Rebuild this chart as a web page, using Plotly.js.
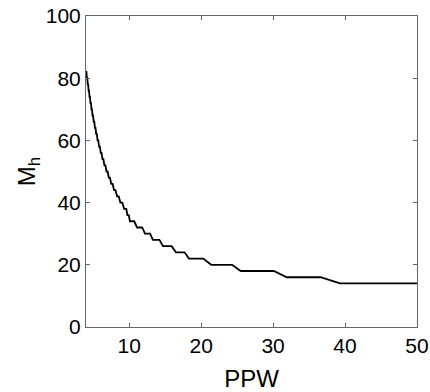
<!DOCTYPE html>
<html>
<head>
<meta charset="utf-8">
<script src="https://cdn.plot.ly/plotly-3.0.1.min.js"></script>
<style>html,body{margin:0;padding:0;background:#fff;}#chart{width:430px;height:392px;}</style>
</head>
<body>
<div id="chart"></div>
<script>
// PPW sample points (start and end of each flat level)
const ppw = [
  4.00, 4.06, 4.12, 4.18, 4.24, 4.30, 4.36, 4.42, 4.49, 4.55,
  4.62, 4.69, 4.76, 4.83, 4.91, 4.98, 5.07, 5.15, 5.24, 5.32,
  5.42, 5.51, 5.61, 5.71, 5.82, 5.93, 6.05, 6.16, 6.29, 6.42,
  6.56, 6.70, 6.85, 7.00, 7.17, 7.33, 7.51, 7.70, 7.90, 8.10,
  8.32, 8.55, 8.78, 9.05, 9.30, 9.60, 9.75, 9.95, 10.1, 10.7,
  11.1, 11.8, 12.2, 12.9, 13.3, 14.2, 14.7, 15.9, 16.5, 17.7,
  18.3, 20.3, 21.4, 24.3, 25.5, 30.1, 31.9, 36.6, 39.3, 50.0
];
// M_h values at those points
const mh = [
  82, 82, 80, 80, 78, 78, 76, 76, 74, 74,
  72, 72, 70, 70, 68, 68, 66, 66, 64, 64,
  62, 62, 60, 60, 58, 58, 56, 56, 54, 54,
  52, 52, 50, 50, 48, 48, 46, 46, 44, 44,
  42, 42, 40, 40, 38, 38, 36, 36, 34, 34,
  32, 32, 30, 30, 28, 28, 26, 26, 24, 24,
  22, 22, 20, 20, 18, 18, 16, 16, 14, 14
];
const xTicks = [10, 20, 30, 40, 50];
const yTicks = [0, 20, 40, 60, 80, 100];

const FONT = 'Liberation Sans, Arial, sans-serif';
const trace = {
  x: ppw, y: mh, type: 'scatter', mode: 'lines',
  line: {color: '#000', width: 1.8},
  hoverinfo: 'skip'
};
const axisCommon = {
  showgrid: false, zeroline: false, showline: true, linecolor: '#666', linewidth: 1,
  mirror: 'ticks', ticks: 'inside', ticklen: 4, tickcolor: '#666', tickwidth: 1,
  tickfont: {family: FONT, size: 21, color: '#000'}
};
const layout = {
  width: 430, height: 392,
  margin: {l: 86, r: 13, t: 16, b: 65},
  paper_bgcolor: '#fff', plot_bgcolor: '#fff',
  showlegend: false,
  xaxis: Object.assign({}, axisCommon, {
    range: [4, 50], tickvals: xTicks, ticktext: xTicks.map(String),
    title: {text: 'PPW', font: {family: FONT, size: 24, color: '#000'}, standoff: 15}
  }),
  yaxis: Object.assign({}, axisCommon, {
    range: [0, 100], tickvals: yTicks, ticktext: yTicks.map(String),
    title: {text: 'M<sub>h</sub>', font: {family: FONT, size: 24, color: '#000'}, standoff: 3}
  })
};
Plotly.newPlot('chart', [trace], layout, {displayModeBar: false, staticPlot: true});
</script>
</body>
</html>
